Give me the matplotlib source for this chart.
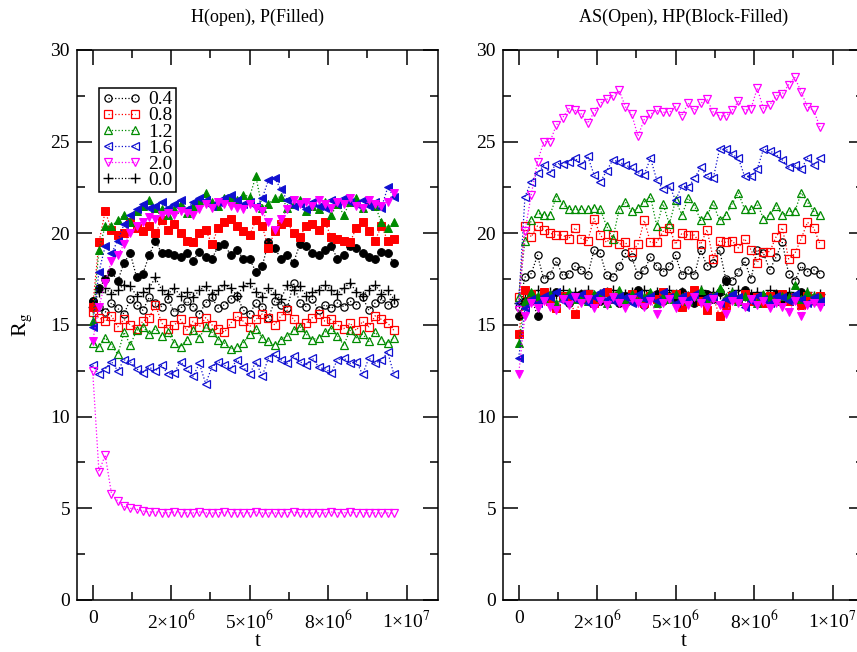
import matplotlib
matplotlib.use("Agg")
import matplotlib.pyplot as plt
from matplotlib.ticker import MultipleLocator

plt.rcParams['font.family'] = ['Liberation Serif', 'DejaVu Serif']
plt.rcParams['mathtext.fontset'] = 'stix'

# time grid, in units of 1e6 MC steps
t_mc = [0.0, 0.2, 0.4, 0.6, 0.8, 1.0, 1.2, 1.4, 1.6, 1.8,
        2.0, 2.2, 2.4, 2.6, 2.8, 3.0, 3.2, 3.4, 3.6, 3.8,
        4.0, 4.2, 4.4, 4.6, 4.8, 5.0, 5.2, 5.4, 5.6, 5.8,
        6.0, 6.2, 6.4, 6.6, 6.8, 7.0, 7.2, 7.4, 7.6, 7.8,
        8.0, 8.2, 8.4, 8.6, 8.8, 9.0, 9.2, 9.4, 9.6]

labels = ['0.4', '0.8', '1.2', '1.6', '2.0']

# ---------------- left panel: H (open symbols), P (filled symbols) ----------------
left_plus = [16.0, 16.8, 17.0, 16.7, 16.9, 17.2, 17.1, 16.6, 16.8, 17.0,
             17.6, 16.9, 16.7, 17.0, 16.6, 16.8, 16.5, 16.9, 17.1, 16.7,
             16.9, 17.2, 17.0, 16.6, 17.1, 17.3, 16.8, 16.5, 17.0, 16.7,
             16.4, 17.2, 16.9, 17.1, 16.6, 16.8, 16.9, 17.2, 16.9, 16.7,
             17.0, 17.3, 16.8, 16.6, 16.9, 17.2, 16.7, 16.9, 16.4]

left_h04 = [16.3, 16.0, 15.7, 16.2, 15.9, 15.6, 16.4, 16.1, 15.8, 16.5,
            16.2, 16.0, 16.4, 15.7, 15.9, 16.3, 16.0, 15.6, 16.2, 16.5,
            15.9, 16.1, 16.4, 16.6, 15.8, 15.6, 16.2, 16.0, 15.4, 16.3,
            16.1, 15.9, 17.3, 16.2, 16.0, 16.4, 15.8, 16.1, 15.9, 16.2,
            16.0, 16.3, 16.1, 16.5, 15.8, 16.2, 16.4, 16.1, 16.2]
left_h08 = [15.7, 15.4, 15.2, 15.5, 14.9, 15.3, 15.0, 14.8, 15.2, 15.4,
            16.1, 15.1, 14.8, 15.0, 15.3, 14.7, 15.2, 14.9, 15.4, 15.0,
            14.8, 14.6, 15.1, 15.5, 15.2, 14.9, 15.3, 15.6, 15.4, 15.0,
            15.5, 15.8, 15.3, 14.9, 15.1, 15.4, 15.6, 15.2, 15.3, 15.0,
            14.8, 15.1, 14.7, 15.2, 14.9, 15.5, 15.3, 15.1, 14.7]
left_h12 = [14.0, 13.8, 14.3, 13.9, 13.4, 14.6, 13.9, 14.7, 14.9, 14.5,
            14.8, 14.4, 14.6, 14.0, 13.8, 14.2, 14.7, 14.3, 14.9, 14.6,
            14.2, 14.0, 13.7, 13.8, 14.0, 14.5, 14.8, 14.3, 14.1, 13.9,
            14.2, 14.4, 14.7, 14.9, 14.5, 14.2, 14.3, 14.6, 14.8, 14.4,
            13.9, 14.7, 14.3, 14.5, 14.1, 14.6, 14.2, 14.0, 14.3]
left_h16 = [12.8, 12.3, 12.6, 13.0, 12.5, 13.1, 13.0, 12.6, 12.4, 12.7,
            12.5, 12.8, 12.3, 12.4, 13.0, 12.6, 12.2, 12.9, 11.8, 12.7,
            13.0, 12.8, 12.6, 13.1, 12.7, 12.3, 13.0, 12.2, 13.2, 13.4,
            13.1, 12.9, 13.3, 13.0, 12.8, 13.2, 12.7, 12.6, 12.4, 13.1,
            13.2, 12.9, 13.0, 12.3, 13.2, 12.9, 13.1, 13.5, 12.3]
left_h20 = [12.5, 7.0, 7.9, 5.8, 5.4, 5.1, 5.0, 4.95, 4.85, 4.8,
            4.8, 4.75, 4.75, 4.8, 4.75, 4.75, 4.75, 4.8, 4.75, 4.75,
            4.75, 4.8, 4.75, 4.75, 4.75, 4.75, 4.8, 4.75, 4.75, 4.75,
            4.75, 4.75, 4.8, 4.75, 4.75, 4.75, 4.75, 4.75, 4.8, 4.75,
            4.75, 4.8, 4.75, 4.75, 4.75, 4.75, 4.75, 4.75, 4.75]

left_p04 = [16.3, 17.0, 17.5, 17.9, 17.4, 18.4, 18.9, 17.6, 17.8, 18.8,
            19.6, 18.9, 18.9, 18.8, 18.7, 18.9, 18.5, 19.0, 18.7, 18.6,
            19.3, 19.4, 18.8, 19.1, 18.6, 18.6, 17.9, 18.2, 19.5, 19.2,
            18.6, 18.8, 18.4, 19.4, 19.3, 18.9, 18.8, 19.1, 19.3, 18.6,
            18.8, 19.3, 19.2, 18.9, 18.7, 18.6, 19.0, 18.9, 18.4]
left_p08 = [16.0, 19.5, 21.2, 20.2, 19.9, 20.0, 20.6, 20.3, 20.1, 20.4,
            20.0, 20.7, 20.2, 20.5, 20.0, 19.6, 19.5, 20.0, 20.2, 19.4,
            20.3, 20.6, 20.8, 20.4, 20.1, 19.9, 20.7, 20.4, 19.2, 20.1,
            20.5, 20.6, 20.0, 19.8, 20.4, 20.5, 20.2, 20.6, 19.8, 19.7,
            19.6, 19.5, 20.3, 20.6, 20.1, 19.6, 20.4, 19.6, 19.7]
left_p12 = [15.2, 19.1, 20.4, 20.4, 20.7, 21.0, 20.6, 21.2, 21.5, 21.8,
            21.4, 21.3, 21.0, 21.3, 21.6, 21.1, 21.5, 21.8, 22.2, 21.7,
            21.5, 21.9, 22.0, 21.8, 22.1, 22.0, 23.1, 21.4, 21.6, 21.9,
            22.0, 21.4, 21.6, 21.8, 21.2, 21.5, 21.3, 21.7, 21.0, 21.6,
            21.0, 21.7, 21.9, 21.4, 21.8, 21.5, 20.6, 20.3, 20.6]
left_p16 = [14.9, 17.9, 19.3, 18.9, 19.6, 20.5, 21.0, 21.3, 21.6, 21.4,
            21.5, 21.7, 21.4, 21.6, 21.8, 21.3, 21.7, 21.9, 21.8, 21.5,
            21.7, 21.9, 22.1, 21.8, 21.6, 21.7, 21.5, 21.9, 22.9, 23.0,
            22.4, 21.8, 21.5, 21.6, 21.3, 21.7, 21.5, 21.4, 21.8, 21.6,
            21.9, 21.7, 21.6, 21.8, 21.5, 21.7, 21.4, 22.5, 22.0]
left_p20 = [14.1, 16.0, 17.3, 18.5, 18.8, 19.4, 20.0, 20.4, 20.6, 20.9,
            20.8, 21.0, 21.1, 21.0, 21.2, 21.1, 21.0, 21.3, 21.6, 21.4,
            21.7, 21.6, 21.5, 21.4, 21.3, 21.6, 21.4, 21.2, 20.6, 20.2,
            20.8, 21.3, 21.8, 21.6, 21.7, 21.5, 21.8, 21.6, 21.4, 21.7,
            21.6, 21.9, 21.5, 21.4, 21.8, 21.6, 21.5, 21.7, 22.2]

# ---------------- right panel: AS (open symbols), HP (filled symbols) ----------------
right_plus = [16.2, 16.8, 16.7, 16.9, 16.6, 16.8, 16.7, 16.9, 16.6, 16.8,
              16.7, 16.9, 16.6, 16.7, 16.8, 16.9, 16.6, 16.7, 16.8, 16.6,
              16.9, 16.7, 16.8, 16.6, 16.9, 16.7, 16.8, 16.6, 16.7, 16.9,
              16.6, 16.8, 16.7, 16.3, 16.8, 16.9, 16.6, 16.7, 16.8, 16.6,
              16.9, 16.7, 16.5, 16.8, 16.4, 16.7, 16.8, 16.6, 16.7]

right_h04 = [16.0, 17.6, 17.8, 18.8, 17.5, 17.7, 18.5, 17.7, 17.8, 18.2,
             18.0, 17.7, 19.1, 18.9, 17.7, 17.6, 18.2, 18.9, 18.7, 17.7,
             18.0, 18.7, 18.2, 17.9, 18.2, 18.8, 17.7, 18.0, 17.7, 19.1,
             18.2, 18.4, 19.1, 17.5, 17.4, 17.9, 18.5, 17.5, 19.1, 18.9,
             18.0, 18.7, 19.5, 17.8, 17.4, 18.2, 17.9, 18.0, 17.8]
right_h08 = [16.5, 20.4, 19.8, 20.4, 20.2, 20.0, 19.9, 19.9, 19.7, 20.3,
             19.7, 19.6, 20.8, 19.9, 19.5, 19.9, 19.4, 19.5, 19.0, 19.4,
             20.7, 19.5, 19.5, 20.1, 20.3, 19.4, 20.0, 19.9, 19.9, 19.4,
             20.2, 18.6, 19.6, 19.5, 19.6, 19.2, 19.7, 19.1, 18.4, 19.0,
             19.0, 19.8, 20.3, 18.6, 18.9, 19.7, 20.6, 20.3, 19.4]
right_h12 = [16.5, 19.6, 20.7, 21.1, 21.0, 21.0, 22.0, 21.6, 21.3, 21.3,
             21.3, 21.3, 21.4, 21.3, 20.4, 19.7, 21.3, 21.7, 21.2, 21.4,
             21.7, 22.0, 20.4, 21.6, 20.5, 21.8, 21.0, 21.9, 21.5, 20.7,
             21.0, 21.6, 20.7, 21.0, 21.6, 22.2, 21.3, 21.3, 21.6, 20.8,
             21.0, 21.5, 21.0, 21.2, 21.2, 22.2, 21.7, 21.2, 21.0]
right_h16 = [16.2, 22.0, 22.8, 23.3, 23.7, 23.3, 23.8, 23.8, 23.9, 24.1,
             23.7, 24.2, 23.2, 22.8, 23.4, 24.0, 23.9, 23.7, 23.6, 23.3,
             23.2, 24.1, 22.9, 22.4, 22.6, 21.8, 22.6, 22.5, 23.0, 23.6,
             23.1, 23.0, 24.6, 24.6, 24.3, 24.1, 23.1, 23.1, 23.5, 24.6,
             24.5, 24.3, 24.0, 23.6, 23.7, 23.5, 24.1, 23.7, 24.1]
right_h20 = [15.8, 20.1, 22.1, 23.9, 25.0, 25.0, 25.9, 26.3, 26.8, 26.7,
             26.5, 26.0, 26.6, 27.1, 27.3, 27.5, 27.8, 26.9, 26.5, 25.3,
             26.2, 26.5, 26.7, 26.6, 26.6, 26.9, 26.4, 27.1, 26.7, 27.1,
             27.3, 26.6, 26.4, 26.4, 26.7, 27.2, 26.7, 26.8, 27.9, 26.8,
             27.0, 27.5, 27.6, 28.1, 28.5, 27.7, 26.9, 26.7, 25.8]

right_p04 = [15.5, 16.3, 16.5, 15.5, 16.7, 16.4, 16.8, 16.6, 16.2, 16.5,
             16.7, 16.4, 16.6, 16.3, 16.8, 16.5, 16.2, 16.6, 16.4, 16.9,
             16.1, 16.5, 16.7, 16.3, 16.6, 16.4, 16.8, 16.5, 16.2, 16.6,
             16.7, 16.4, 16.8, 17.4, 16.5, 16.3, 16.9, 16.6, 16.4, 16.2,
             16.5, 16.7, 16.3, 16.6, 16.4, 16.8, 16.5, 16.3, 16.6]
right_p08 = [14.5, 16.9, 16.7, 16.4, 16.8, 16.3, 15.9, 16.6, 16.5, 15.6,
             16.4, 16.7, 16.2, 16.5, 16.8, 16.4, 16.6, 16.3, 16.7, 16.5,
             16.2, 16.6, 16.4, 16.8, 16.5, 16.7, 16.0, 16.6, 16.9, 16.3,
             15.8, 16.5, 15.5, 16.1, 16.6, 16.4, 16.7, 16.3, 16.5, 16.2,
             16.6, 16.4, 16.7, 16.3, 16.5, 16.1, 16.6, 16.4, 16.6]
right_p12 = [14.0, 16.3, 16.8, 16.6, 16.4, 16.7, 16.2, 16.5, 16.8, 16.4,
             16.6, 16.3, 16.7, 16.5, 16.2, 16.6, 16.9, 16.4, 16.7, 16.3,
             16.5, 16.8, 16.2, 16.6, 16.4, 16.7, 16.5, 16.3, 16.6, 16.9,
             16.4, 16.6, 17.0, 16.5, 16.8, 16.3, 16.6, 16.4, 16.2, 16.7,
             16.5, 16.3, 16.6, 16.5, 17.2, 16.4, 16.8, 16.6, 16.5]
right_p16 = [13.2, 15.9, 16.4, 16.2, 16.6, 16.5, 16.8, 16.3, 16.6, 16.4,
             16.7, 16.2, 16.5, 16.8, 16.4, 16.3, 16.6, 16.5, 16.2, 16.7,
             16.4, 16.6, 16.3, 16.8, 16.5, 16.2, 16.6, 16.4, 16.7, 16.3,
             16.5, 16.6, 16.2, 16.4, 16.7, 16.5, 16.0, 16.3, 16.6, 16.4,
             16.2, 16.6, 16.5, 16.3, 16.7, 16.4, 16.2, 16.5, 16.3]
right_p20 = [12.3, 15.5, 16.2, 15.9, 16.3, 16.0, 15.8, 16.4, 16.1, 16.5,
             16.2, 16.4, 15.9, 16.3, 16.1, 16.5, 16.2, 15.9, 16.4, 16.2,
             16.0, 16.3, 15.6, 16.2, 16.4, 15.9, 16.3, 16.1, 16.5, 16.2,
             16.0, 16.4, 16.1, 15.6, 16.3, 16.2, 16.0, 16.4, 16.1, 16.3,
             15.9, 16.2, 16.0, 15.7, 16.3, 15.5, 16.1, 16.2, 16.0]

colors = ['black', '#ff0000', '#008b00', '#1010d0', '#ff00ff']
markers = ['o', 's', '^', '<', 'v']

t = [v * 1e6 for v in t_mc]


def draw_panel(ax, plus, open_sets, filled_sets, title):
    ax.plot(t, plus, linestyle=':', linewidth=0.9, color='black', marker='+',
            markersize=7, markeredgewidth=1.0, label='0.0', zorder=3)
    for y, c, m, lab in zip(open_sets, colors, markers, labels):
        ax.plot(t, y, linestyle=':', linewidth=0.9, color=c, marker=m,
                markersize=5.2, markerfacecolor='none', markeredgecolor=c,
                markeredgewidth=0.9, label=lab, zorder=3)
    for y, c, m in zip(filled_sets, colors, markers):
        ax.plot(t, y, linestyle=':', linewidth=0.9, color=c, marker=m,
                markersize=5.6, markerfacecolor=c, markeredgecolor=c,
                markeredgewidth=0.7, zorder=4)

    ax.set_xlim(-5e5, 1.1e7)
    ax.set_ylim(0, 30)
    ax.xaxis.set_minor_locator(MultipleLocator(1.25e6))
    ax.yaxis.set_major_locator(MultipleLocator(5))
    ax.yaxis.set_minor_locator(MultipleLocator(2.5))
    ax.set_xticks([0, 2.5e6, 5e6, 7.5e6, 1e7])
    ax.set_xticklabels(['0', '2×10$^6$', '5×10$^6$', '8×10$^6$', '1×10$^7$'])
    ax.tick_params(which='both', direction='in', top=True, right=True,
                   labelsize=14, width=1.1)
    ax.tick_params(which='major', length=11)
    ax.tick_params(which='minor', length=5.5)
    ax.tick_params(axis='x', pad=7)
    ax.tick_params(axis='y', pad=5)
    for s in ax.spines.values():
        s.set_linewidth(1.1)
    ax.set_xlabel('t', fontsize=15, labelpad=0)
    ax.set_title(title, fontsize=13, pad=20)


fig = plt.figure(figsize=(8.57, 6.52), dpi=100)
ax1 = fig.add_axes([0.0898, 0.0798, 0.4212, 0.8436])
ax2 = fig.add_axes([0.5869, 0.0798, 0.4212, 0.8436])

draw_panel(ax1, left_plus,
           [left_h04, left_h08, left_h12, left_h16, left_h20],
           [left_p04, left_p08, left_p12, left_p16, left_p20],
           'H(open), P(Filled)')
draw_panel(ax2, right_plus,
           [right_h04, right_h08, right_h12, right_h16, right_h20],
           [right_p04, right_p08, right_p12, right_p16, right_p20],
           'AS(Open), HP(Block-Filled)')

ax1.set_ylabel(r'R$_{\mathrm{g}}$', fontsize=16, labelpad=12)

# legend: open symbols first, then the plus series
handles, labs = ax1.get_legend_handles_labels()
order = [1, 2, 3, 4, 5, 0]
leg = ax1.legend([handles[i] for i in order], [labs[i] for i in order],
                 loc='upper left', bbox_to_anchor=(0.061, 0.931), borderaxespad=0,
                 fontsize=14, numpoints=2, handlelength=2.0, handletextpad=0.4,
                 labelspacing=-0.08, borderpad=0.15, fancybox=False,
                 edgecolor='black', framealpha=1)
leg.get_frame().set_linewidth(1.1)

fig.savefig('out.png', dpi=100)
